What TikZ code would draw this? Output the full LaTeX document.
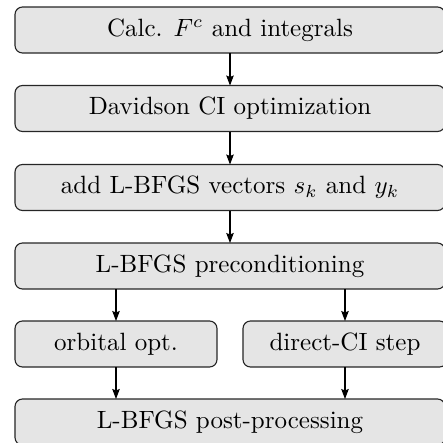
\documentclass[tikz,border=0pt]{standalone}
\usetikzlibrary{arrows.meta}
\begin{document}
\begin{tikzpicture}[x=0.4pt,y=-0.4pt,
  box/.style={draw=black!85, fill=gray!20, rounded corners=3pt, minimum height=18.4pt, inner sep=0pt, outer sep=0pt, line width=0.45pt},
  wide/.style={box, minimum width=172pt},
  conn/.style={-{Stealth[length=4pt,width=3pt,inset=0.6pt]}, line width=0.45pt}]
\useasboundingbox (0,0) rectangle (443,443);
\clip (0,0) rectangle (443,443);
\node[wide] (b1) at (230,30) {Calc. $F^c$ and integrals};
\node[wide] (b2) at (230,108.5) {Davidson CI optimization};
\node[wide] (b3) at (230,187.5) {add L-BFGS vectors $s_k$ and $y_k$};
\node[wide] (b4) at (230,266) {L-BFGS preconditioning};
\node[box, minimum width=80.8pt] (bl) at (116,344) {orbital opt.};
\node[box, minimum width=81.6pt] (br) at (345,344) {direct-CI step};
\node[wide] (b6) at (230,422) {L-BFGS post-processing};
\draw[conn] (b1) -- (b2);
\draw[conn] (b2) -- (b3);
\draw[conn] (b3) -- (b4);
\draw[conn] (b4.south -| bl) -- (bl);
\draw[conn] (b4.south -| br) -- (br);
\draw[conn] (bl) -- (b6.north -| bl);
\draw[conn] (br) -- (b6.north -| br);
\end{tikzpicture}
\end{document}
